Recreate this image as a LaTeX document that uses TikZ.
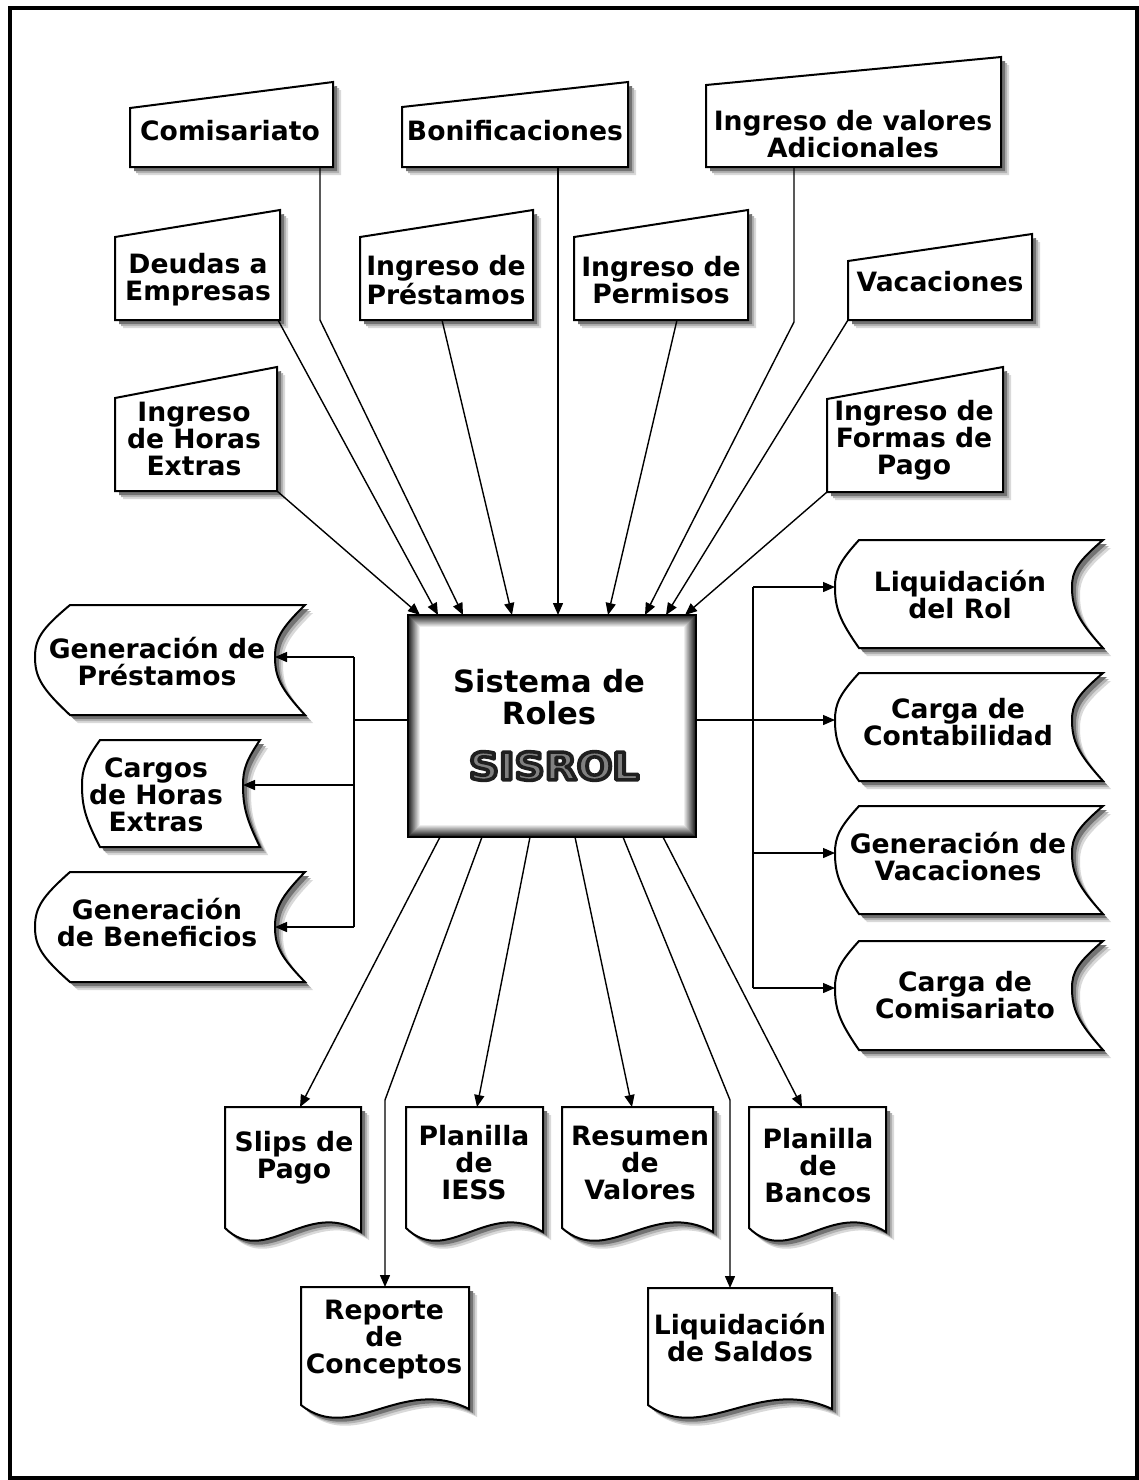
\documentclass[tikz,border=0pt]{standalone}
\usepackage{fontspec}
\setmainfont{DejaVu Sans}
\usetikzlibrary{arrows.meta}

% manual-input box: flat bottom, sloping top (left lower than right)
\newcommand\inshape[5]{% xl, xr, y top-left, y top-right, y bottom
  \draw[boxline,shadowed] (#1,#5) -- (#1,#3) -- (#2,#4) -- (#2,#5) -- cycle;}

% stored-data box: convex left side, concave right side
\newcommand\storedshape[7]{% xl, dx, xr, depth, top, y of waist, bottom
  \draw[boxline,shadowed] ({#1+#2},#5) -- (#3,#5)
    .. controls ({#3-0.8*#4},{#5+0.45*(#6-#5)}) and ({#3-#4},{#6-0.35*(#6-#5)}) .. ({#3-#4},#6)
    .. controls ({#3-#4},{#6+0.35*(#7-#6)}) and ({#3-0.8*#4},{#7-0.45*(#7-#6)}) .. (#3,#7)
    -- ({#1+#2},#7)
    .. controls ({#1+0.2*#2},{#7-0.45*(#7-#6)}) and (#1,{#6+0.35*(#7-#6)}) .. (#1,#6)
    .. controls (#1,{#6-0.35*(#6-#5)}) and ({#1+0.2*#2},{#5+0.45*(#6-#5)}) .. ({#1+#2},#5)
    -- cycle;}

% document box: straight top and sides, wavy bottom
\newcommand\docshape[4]{% xl, xr, top, y of bottom-left corner
  \draw[boxline,shadowed] (#1,#3) -- (#2,#3) -- (#2,{#4+4})
    .. controls ({#1+0.6*(#2-#1)},{#4-30}) and ({#1+0.3*(#2-#1)},{#4+40}) .. (#1,#4)
    -- cycle;}

% outlined logo lettering: grey fill, dark stroke round the glyphs
\newcommand\outlined[1]{{\color{black!50}%
  \special{pdf:literal direct 2 Tr 1.8 w 1 j 0.12 G}#1\special{pdf:literal direct 0 Tr 1 w 0 j}}}

\begin{document}
\begin{tikzpicture}[x=0.5pt,y=-0.5pt,
  boxline/.style={line width=1pt, fill=white, line join=miter},
  shadowed/.style={
    preaction={fill=black!15, transform canvas={shift={(4pt,-4pt)}}},
    preaction={fill=black!30, transform canvas={shift={(3pt,-3pt)}}},
    preaction={fill=black!55, transform canvas={shift={(2pt,-2pt)}}}},
  lbl/.style={align=center, inner sep=0pt, font=\bfseries\fontsize{13.3}{13.5}\selectfont},
  biglbl/.style={align=center, inner sep=0pt, font=\bfseries\fontsize{15.3}{15.8}\selectfont},
  logo/.style={inner sep=0pt, font=\bfseries\fontsize{19}{19}\selectfont},
  conn/.style={line width=0.7pt},
  arr/.style={conn, -{Triangle[length=6pt,width=5pt]}},
]
\useasboundingbox (0,0) rectangle (1139,1480);
\fill[white] (0,0) rectangle (1139,1480);
\draw[line width=1.6pt] (10,8) rectangle (1137,1478);

% ---------- input boxes ----------
\inshape{130}{333}{108}{82}{167}
\node[lbl] (comis) at (230,131) {Comisariato};
\inshape{402}{628}{107}{82}{167}
\node[lbl] (bonif) at (515,131) {Bonificaciones};
\inshape{706}{1001}{85}{57}{167}
\node[lbl] (adic) at (853,134) {Ingreso de valores\\Adicionales};

\inshape{115}{280}{237}{210}{320}
\node[lbl] (deudas) at (198,280) {Deudas a\\Empresas};
\inshape{360}{533}{237}{210}{320}
\node[lbl] (prest) at (446,280) {Ingreso de\\Préstamos};
\inshape{574}{748}{237}{210}{320}
\node[lbl] (perm) at (661,280) {Ingreso de\\Permisos};
\inshape{848}{1032}{261}{234}{320}
\node[lbl] (vac) at (940,282) {Vacaciones};

\inshape{115}{277}{398}{367}{491}
\node[lbl] (horas) at (194,439) {Ingreso\\de Horas\\Extras};
\inshape{827}{1003}{399}{367}{492}
\node[lbl] (formas) at (914,440) {Ingreso de\\Formas de\\Pago};

% ---------- central system box ----------
\foreach \i in {0,...,12} {
  \pgfmathtruncatemacro\shadeval{max(0,90-7.5*\i)}
  \fill[black!\shadeval] ({408+\i},{615+\i}) rectangle ({696-\i},{837-\i});
}
\draw[line width=0.6pt] (408,615) rectangle (696,837);
\node[biglbl] (sistema) at (549,697) {Sistema de\\Roles};
\node[logo] (sisrol) at (554,766) {\scalebox{1.1}[1]{\outlined{SISROL}}};

% ---------- left outputs ----------
\storedshape{35}{35}{305}{30}{605}{657}{715}
\node[lbl] (genprest) at (157,662) {Generación de\\Préstamos};
\storedshape{82}{18}{260}{17}{740}{785}{847}
\node[lbl] (cargos) at (156,795) {Cargos\\de Horas\\Extras};
\storedshape{35}{35}{305}{30}{872}{927}{982}
\node[lbl] (genbenef) at (157,923) {Generación\\de Beneficios};

% ---------- right outputs ----------
\storedshape{835}{24}{1103}{31}{540}{587}{648}
\node[lbl] (liqrol) at (960,595) {Liquidación\\del Rol};
\storedshape{835}{24}{1103}{31}{673}{720}{781}
\node[lbl] (cargacont) at (958,722) {Carga de\\Contabilidad};
\storedshape{835}{24}{1103}{31}{806}{853}{914}
\node[lbl] (genvac) at (958,857) {Generación de\\Vacaciones};
\storedshape{835}{24}{1103}{31}{941}{988}{1050}
\node[lbl] (cargacom) at (965,995) {Carga de\\Comisariato};

% ---------- report outputs ----------
\docshape{225}{361}{1107}{1228}
\node[lbl] (slips) at (294,1158) {Slips de\\Pago};
\docshape{406}{543}{1107}{1228}
\node[lbl] (iess) at (474,1163) {Planilla\\de\\IESS};
\docshape{562}{713}{1107}{1228}
\node[lbl] (resumen) at (640,1163) {Resumen\\de\\Valores};
\docshape{749}{886}{1107}{1228}
\node[lbl] (bancos) at (818,1166) {Planilla\\de\\Bancos};
\docshape{301}{469}{1287}{1405}
\node[lbl] (reporte) at (384,1340) {Reporte\\de\\Conceptos};
\docshape{648}{832}{1288}{1405}
\node[lbl] (liqsaldos) at (740,1338) {Liquidación\\de Saldos};

% ---------- connection points ----------
% box outlets
\coordinate (comis-o) at (320,167);
\coordinate (bonif-o) at (558,167);
\coordinate (adic-o) at (794,167);
\coordinate (deudas-o) at (278,320);
\coordinate (prest-o) at (442,320);
\coordinate (perm-o) at (677,320);
\coordinate (vac-o) at (848,320);
\coordinate (horas-o) at (277,491);
\coordinate (formas-o) at (827,492);
\coordinate (comis-b) at (320,320);
\coordinate (adic-b) at (794,322);
% entries on the system box
\coordinate (s-in1) at (420,615);
\coordinate (s-in2) at (438,615);
\coordinate (s-in3) at (463,615);
\coordinate (s-in4) at (512,615);
\coordinate (s-in5) at (558,615);
\coordinate (s-in6) at (608,615);
\coordinate (s-in7) at (645,615);
\coordinate (s-in8) at (666,615);
\coordinate (s-in9) at (685,615);
% exits of the system box
\coordinate (s-left) at (408,720);
\coordinate (s-right) at (696,720);
\coordinate (s-out1) at (440,837);
\coordinate (s-out2) at (482,837);
\coordinate (s-out3) at (530,837);
\coordinate (s-out4) at (575,837);
\coordinate (s-out5) at (623,837);
\coordinate (s-out6) at (663,837);
% side buses
\coordinate (lbus) at (354,720);
\coordinate (lbus-t) at (354,657);
\coordinate (lbus-m) at (354,785);
\coordinate (lbus-b) at (354,927);
\coordinate (rbus-t) at (753,587);
\coordinate (rbus-m) at (753,720);
\coordinate (rbus-3) at (753,853);
\coordinate (rbus-b) at (753,988);
% targets
\coordinate (genprest-i) at (275,657);
\coordinate (cargos-i) at (243,785);
\coordinate (genbenef-i) at (275,927);
\coordinate (liqrol-i) at (835,587);
\coordinate (cargacont-i) at (835,720);
\coordinate (genvac-i) at (835,853);
\coordinate (cargacom-i) at (835,988);
\coordinate (slips-i) at (300,1107);
\coordinate (iess-i) at (477,1107);
\coordinate (resumen-i) at (632,1107);
\coordinate (bancos-i) at (802,1107);
\coordinate (reporte-b) at (385,1100);
\coordinate (reporte-i) at (385,1287);
\coordinate (liqsaldos-b) at (730,1100);
\coordinate (liqsaldos-i) at (730,1288);

% ---------- incoming connectors ----------
\draw[arr] (horas-o) -- (s-in1);
\draw[arr] (deudas-o) -- (s-in2);
\draw[arr] (comis-o) -- (comis-b) -- (s-in3);
\draw[arr] (prest-o) -- (s-in4);
\draw[arr] (bonif-o) -- (s-in5);
\draw[arr] (perm-o) -- (s-in6);
\draw[arr] (adic-o) -- (adic-b) -- (s-in7);
\draw[arr] (vac-o) -- (s-in8);
\draw[arr] (formas-o) -- (s-in9);

% ---------- left bus ----------
\draw[conn] (s-left) -- (lbus);
\draw[conn] (lbus-t) -- (lbus-b);
\draw[arr] (lbus-t) -- (genprest-i);
\draw[arr] (lbus-m) -- (cargos-i);
\draw[arr] (lbus-b) -- (genbenef-i);

% ---------- right bus ----------
\draw[conn] (rbus-t) -- (rbus-b);
\draw[arr] (s-right) -- (cargacont-i);
\draw[arr] (rbus-t) -- (liqrol-i);
\draw[arr] (rbus-3) -- (genvac-i);
\draw[arr] (rbus-b) -- (cargacom-i);

% ---------- report connectors ----------
\draw[arr] (s-out1) -- (slips-i);
\draw[arr] (s-out2) -- (reporte-b) -- (reporte-i);
\draw[arr] (s-out3) -- (iess-i);
\draw[arr] (s-out4) -- (resumen-i);
\draw[arr] (s-out5) -- (liqsaldos-b) -- (liqsaldos-i);
\draw[arr] (s-out6) -- (bancos-i);
\end{tikzpicture}
\end{document}
